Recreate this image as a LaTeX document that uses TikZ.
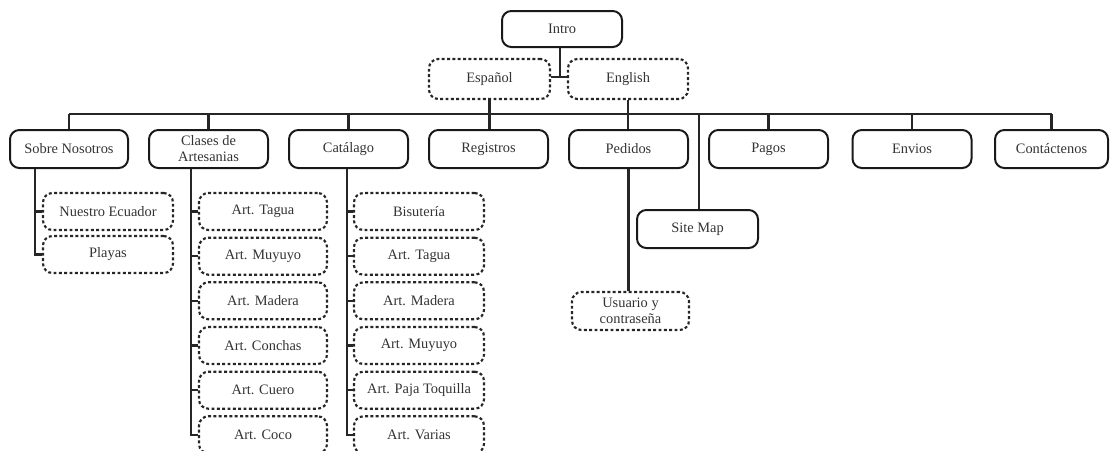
\documentclass[tikz,border=0pt]{standalone}
\usepackage{fontspec}
\setmainfont{Liberation Serif}
\tikzset{
  every node/.style={font=\fontsize{10.8}{12}\selectfont, text=black!80, align=center, inner sep=0pt},
  sz/.style 2 args={minimum width=#1*0.75pt, minimum height=#2*0.75pt},
  solidbox/.style={draw=black!90, line width=1.5pt, rounded corners=7pt},
  dotbox/.style={draw=black!85, line width=1.6pt, rounded corners=7pt, dash pattern=on 2.2pt off 1.8pt},
  conn/.style={draw=black!85, line width=1.6pt}
}
\begin{document}
\begin{tikzpicture}[x=0.75pt, y=-0.75pt]
\useasboundingbox (0,0) rectangle (1110,450);
% top
\node[solidbox, sz={120}{36}] (intro) at (562,29) {Intro};
\node[dotbox, sz={121}{40}] (esp) at (489.5,79) {Español};
\node[dotbox, sz={120}{40}] (eng) at (628,79) {English};
% level 1
\node[solidbox, sz={118}{38}] (sobre) at (69,149) {Sobre Nosotros};
\node[solidbox, sz={119}{38}] (clases) at (208.5,149) {Clases de\\Artesanias};
\node[solidbox, sz={119}{38}] (catal) at (348.5,149) {Catálago};
\node[solidbox, sz={119}{38}] (regis) at (488.5,149) {Registros};
\node[solidbox, sz={119}{38}] (pedid) at (628.5,149) {Pedidos};
\node[solidbox, sz={119}{38}] (pagos) at (768.5,149) {Pagos};
\node[solidbox, sz={119}{38}] (envios) at (912,149) {Envios};
\node[solidbox, sz={113}{38}] (contac) at (1051.5,149) {Contáctenos};
\node[solidbox, sz={121}{38}] (site) at (697.5,229) {Site Map};
\node[dotbox, sz={117}{38}] (usr) at (630.5,311) {Usuario y\\contraseña};
% Sobre children
\node[dotbox, sz={130}{37}] (ne) at (108,211.5) {Nuestro Ecuador};
\node[dotbox, sz={130}{37}] (pl) at (108,254.5) {Playas};
% Clases children
\node[dotbox, sz={128}{37}] (c1) at (263,211.5) {Art. Tagua};
\node[dotbox, sz={128}{37}] (c2) at (263,256.2) {Art. Muyuyo};
\node[dotbox, sz={128}{37}] (c3) at (263,300.8) {Art. Madera};
\node[dotbox, sz={128}{37}] (c4) at (263,345.5) {Art. Conchas};
\node[dotbox, sz={128}{37}] (c5) at (263,390.2) {Art. Cuero};
\node[dotbox, sz={128}{37}] (c6) at (263,434.8) {Art. Coco};
% Catalago children
\node[dotbox, sz={130}{37}] (k1) at (419,211.5) {Bisutería};
\node[dotbox, sz={130}{37}] (k2) at (419,256.2) {Art. Tagua};
\node[dotbox, sz={130}{37}] (k3) at (419,300.8) {Art. Madera};
\node[dotbox, sz={130}{37}] (k4) at (419,345.5) {Art. Muyuyo};
\node[dotbox, sz={130}{37}] (k5) at (419,390.2) {Art. Paja Toquilla};
\node[dotbox, sz={130}{37}] (k6) at (419,434.8) {Art. Varias};
% coordinates
\coordinate (j) at (560,77);
\coordinate (bus) at (0,114);
\coordinate (tS) at (35,0);
\coordinate (tC) at (191,0);
\coordinate (tK) at (347,0);
\coordinate (tM) at (699,0);
% connectors top
\draw[conn] (intro.south -| j) -- (j);
\draw[conn] (esp.east |- j) -- (eng.west |- j);
\draw[conn] (sobre.north |- bus) -- (contac.north |- bus);
\draw[conn] (esp.south) -- (esp.south |- regis.north);
\draw[conn] (eng.south) -- (eng.south |- pedid.north);
\foreach \n in {sobre,clases,catal,pagos,envios,contac}
  \draw[conn] (\n.north |- bus) -- (\n.north);
\draw[conn] (tM |- bus) -- (tM |- site.north);
\draw[conn] (pedid.south) -- (pedid.south |- usr.north);
% Sobre trunk
\draw[conn] (tS |- sobre.south) |- (pl.west);
\draw[conn] (tS |- ne.west) -- (ne.west);
% Clases trunk
\draw[conn] (tC |- clases.south) |- (c6.west);
\foreach \n in {c1,c2,c3,c4,c5}
  \draw[conn] (tC |- \n.west) -- (\n.west);
% Catalago trunk
\draw[conn] (tK |- catal.south) |- (k6.west);
\foreach \n in {k1,k2,k3,k4,k5}
  \draw[conn] (tK |- \n.west) -- (\n.west);
\end{tikzpicture}
\end{document}
